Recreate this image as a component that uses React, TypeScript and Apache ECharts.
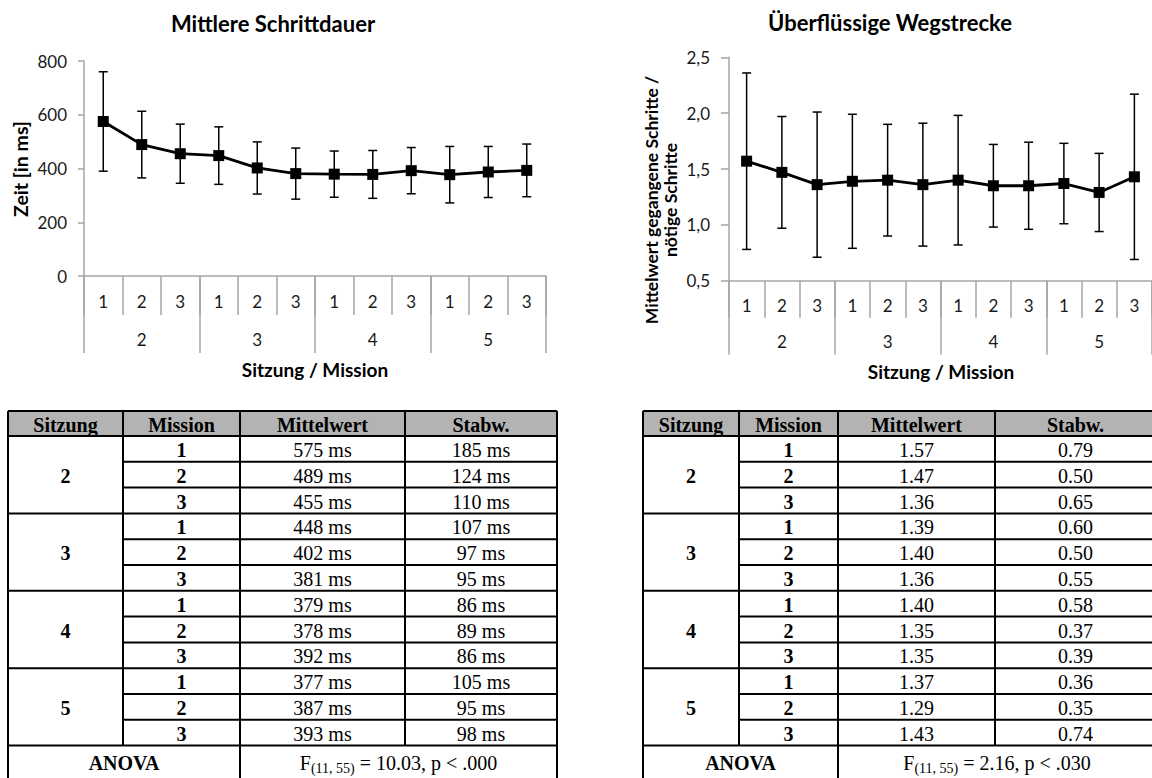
import React, { useEffect, useRef } from 'react';
import * as echarts from 'echarts';

// ---------- data ----------
const missionLabels = ['1', '2', '3', '1', '2', '3', '1', '2', '3', '1', '2', '3'];
const sessionLabels = ['2', '3', '4', '5'];
const durationMean = [575, 489, 455, 448, 402, 381, 379, 378, 392, 377, 387, 393];
const durationSd = [185, 124, 110, 107, 97, 95, 86, 89, 86, 105, 95, 98];
const pathMean = [1.57, 1.47, 1.36, 1.39, 1.40, 1.36, 1.40, 1.35, 1.35, 1.37, 1.29, 1.43];
const pathSd = [0.79, 0.50, 0.65, 0.60, 0.50, 0.55, 0.58, 0.37, 0.39, 0.36, 0.35, 0.74];

const tableHeaders = ['Sitzung', 'Mission', 'Mittelwert', 'Stabw.'];
const anovaLabel = 'ANOVA';
const durationAnova = ['F', '(11, 55)', ' = 10.03, p < .000'];
const pathAnova = ['F', '(11, 55)', ' = 2.16, p < .030'];

const titleLeft = 'Mittlere Schrittdauer';
const titleRight = 'Überflüssige Wegstrecke';
const xTitle = 'Sitzung / Mission';
const yTitleLeft = 'Zeit [in ms]';
const yTitleRight = 'Mittelwert gegangene Schritte /\nnötige Schritte';

// ---------- styling ----------
const SANS = 'Lato';
const SERIF = 'Liberation Serif';
const AXIS_GRAY = '#a6a6a6';
const LABEL = '#1a1a1a';

const errorBarItem = (params: any, api: any) => {
  const x = api.value(0);
  const lo = api.coord([x, api.value(1)]);
  const hi = api.coord([x, api.value(2)]);
  const w = 4.5;
  const style = { stroke: '#000', lineWidth: 1.5 };
  return {
    type: 'group',
    children: [
      { type: 'line', shape: { x1: lo[0], y1: lo[1], x2: hi[0], y2: hi[1] }, style },
      { type: 'line', shape: { x1: lo[0] - w, y1: lo[1], x2: lo[0] + w, y2: lo[1] }, style },
      { type: 'line', shape: { x1: hi[0] - w, y1: hi[1], x2: hi[0] + w, y2: hi[1] }, style },
    ],
  };
};

function xAxes(gridIndex: number, catMargin: number, groupMargin: number, shortLen: number, longLen: number) {
  return [
    {
      type: 'category',
      gridIndex,
      position: 'bottom',
      data: missionLabels,
      boundaryGap: true,
      axisLine: { show: true, lineStyle: { color: AXIS_GRAY, width: 1.5 } },
      axisTick: { show: true, interval: 0, length: shortLen, lineStyle: { color: AXIS_GRAY, width: 1.5 } },
      axisLabel: { interval: 0, margin: catMargin, fontSize: 17, color: LABEL, fontFamily: SANS },
      splitLine: { show: false },
    },
    {
      type: 'category',
      gridIndex,
      position: 'bottom',
      data: sessionLabels,
      boundaryGap: true,
      axisLine: { show: false },
      axisTick: { show: true, interval: 0, length: longLen, lineStyle: { color: AXIS_GRAY, width: 1.5 } },
      axisLabel: { interval: 0, margin: groupMargin, fontSize: 17, color: LABEL, fontFamily: SANS },
      splitLine: { show: false },
    },
  ];
}

function buildTable(
  colX: number[],
  top: number,
  headerH: number,
  rowH: number,
  anovaH: number,
  means: string[],
  sds: string[],
  anova: string[],
) {
  const els: any[] = [];
  const left = colX[0];
  const right = colX[4];
  const bodyTop = top + headerH;
  const anovaTop = bodyTop + rowH * means.length;
  const bottom = anovaTop + anovaH;
  const line = { stroke: '#000', lineWidth: 2 };
  els.push({ type: 'rect', shape: { x: left, y: top, width: right - left, height: headerH }, style: { fill: '#b3b3b3' } });
  els.push({ type: 'line', shape: { x1: left, y1: top, x2: right, y2: top }, style: line });
  els.push({ type: 'line', shape: { x1: left, y1: bodyTop, x2: right, y2: bodyTop }, style: line });
  means.forEach((_, i) => {
    const y = bodyTop + rowH * (i + 1);
    const x1 = (i + 1) % 3 === 0 ? left : colX[1];
    els.push({ type: 'line', shape: { x1, y1: y, x2: right, y2: y }, style: line });
  });
  els.push({ type: 'line', shape: { x1: left, y1: bottom, x2: right, y2: bottom }, style: line });
  els.push({ type: 'line', shape: { x1: left, y1: top, x2: left, y2: bottom }, style: line });
  els.push({ type: 'line', shape: { x1: colX[1], y1: top, x2: colX[1], y2: anovaTop }, style: line });
  els.push({ type: 'line', shape: { x1: colX[2], y1: top, x2: colX[2], y2: bottom }, style: line });
  els.push({ type: 'line', shape: { x1: colX[3], y1: top, x2: colX[3], y2: anovaTop }, style: line });
  els.push({ type: 'line', shape: { x1: right, y1: top, x2: right, y2: bottom }, style: line });

  const txt = (x: number, y: number, text: string, bold: boolean) => ({
    type: 'text',
    x,
    y,
    style: {
      text,
      fontFamily: SERIF,
      fontSize: 20,
      fontWeight: bold ? 'bold' : 'normal',
      fill: '#000',
      align: 'center',
      verticalAlign: 'middle',
    },
  });
  const cx = (i: number) => (colX[i] + colX[i + 1]) / 2;
  tableHeaders.forEach((h, i) => els.push(txt(cx(i), top + headerH / 2 + 1, h, true)));
  sessionLabels.forEach((s, g) => els.push(txt(cx(0), bodyTop + rowH * (g * 3 + 1.5) + 1, s, true)));
  means.forEach((m, i) => {
    const y = bodyTop + rowH * (i + 0.5) + 1;
    els.push(txt(cx(1), y, missionLabels[i], true));
    els.push(txt(cx(2), y, m, false));
    els.push(txt(cx(3), y, sds[i], false));
  });
  const ay = anovaTop + 17;
  els.push(txt((colX[0] + colX[2]) / 2, ay, anovaLabel, true));
  els.push({
    type: 'text',
    x: (colX[2] + colX[4]) / 2,
    y: ay,
    style: {
      text: `{n|${anova[0]}}{s|${anova[1]}}{n|${anova[2]}}`,
      align: 'center',
      verticalAlign: 'middle',
      fontFamily: SERIF,
      fontSize: 20,
      fill: '#000',
      rich: {
        n: { fontFamily: SERIF, fontSize: 20, lineHeight: 26, fill: '#000', verticalAlign: 'middle' },
        s: { fontFamily: SERIF, fontSize: 14, lineHeight: 14, fill: '#000', verticalAlign: 'bottom' },
      },
    },
  });
  return els;
}

function titleText(x: number, y: number, text: string, size: number, rotate = false, lineHeight?: number) {
  return {
    type: 'text',
    x,
    y,
    rotation: rotate ? Math.PI / 2 : 0,
    style: {
      text,
      fontFamily: SANS,
      fontSize: size,
      fontWeight: 'bold',
      fill: '#000',
      align: 'center',
      verticalAlign: 'middle',
      lineHeight,
    },
  };
}

export default function App() {
  const ref = useRef<HTMLDivElement>(null);
  useEffect(() => {
    if (!ref.current) return;
    const chart = echarts.init(ref.current, undefined, { renderer: 'svg' });
    const option: any = {
      animation: false,
      backgroundColor: '#fff',
      textStyle: { fontFamily: SANS },
      grid: [
        { left: 84, top: 61, width: 462, height: 215, containLabel: false },
        { left: 729, top: 57.3, width: 423.6, height: 223.4, containLabel: false },
      ],
      xAxis: [...xAxes(0, 17, 55, 39, 77), ...xAxes(1, 16, 52, 37, 74)],
      yAxis: [
        {
          type: 'value',
          gridIndex: 0,
          min: 0,
          max: 800,
          interval: 200,
          axisLine: { show: true, lineStyle: { color: AXIS_GRAY, width: 1.5 } },
          axisTick: { show: true, length: 6, lineStyle: { color: AXIS_GRAY, width: 1.5 } },
          axisLabel: { margin: 17, fontSize: 17, color: LABEL, fontFamily: SANS },
          splitLine: { show: false },
        },
        {
          type: 'value',
          gridIndex: 1,
          min: 0.5,
          max: 2.5,
          interval: 0.5,
          axisLine: { show: true, lineStyle: { color: AXIS_GRAY, width: 1.5 } },
          axisTick: { show: true, length: 8, lineStyle: { color: AXIS_GRAY, width: 1.5 } },
          axisLabel: {
            margin: 19,
            fontSize: 17,
            color: LABEL,
            fontFamily: SANS,
            formatter: (v: number) => v.toFixed(1).replace('.', ','),
          },
          splitLine: { show: false },
        },
      ],
      series: [
        {
          type: 'custom',
          xAxisIndex: 0,
          yAxisIndex: 0,
          renderItem: errorBarItem,
          encode: { x: 0, y: [1, 2] },
          data: durationMean.map((m, i) => [i, m - durationSd[i], m + durationSd[i]]),
          z: 2,
        },
        {
          type: 'line',
          xAxisIndex: 0,
          yAxisIndex: 0,
          data: durationMean,
          symbol: 'rect',
          symbolSize: 11,
          lineStyle: { color: '#000', width: 2.8 },
          itemStyle: { color: '#000' },
          z: 3,
        },
        {
          type: 'custom',
          xAxisIndex: 2,
          yAxisIndex: 1,
          renderItem: errorBarItem,
          encode: { x: 0, y: [1, 2] },
          data: pathMean.map((m, i) => [i, m - pathSd[i], m + pathSd[i]]),
          z: 2,
        },
        {
          type: 'line',
          xAxisIndex: 2,
          yAxisIndex: 1,
          data: pathMean,
          symbol: 'rect',
          symbolSize: 11,
          lineStyle: { color: '#000', width: 2.8 },
          itemStyle: { color: '#000' },
          z: 3,
        },
      ],
      graphic: [
        titleText(273, 23, titleLeft, 22),
        titleText(890, 22, titleRight, 22),
        titleText(315, 369, xTitle, 19),
        titleText(941, 371, xTitle, 19),
        titleText(20, 169, yTitleLeft, 19.5, true),
        titleText(661, 200, yTitleRight, 17.5, true, 19),
        ...buildTable(
          [8, 123, 240, 405, 557],
          411,
          25,
          25.8,
          34,
          durationMean.map((m) => `${m} ms`),
          durationSd.map((s) => `${s} ms`),
          durationAnova,
        ),
        ...buildTable(
          [643, 739, 838, 995, 1156],
          411,
          25,
          25.8,
          34,
          pathMean.map((m) => m.toFixed(2)),
          pathSd.map((s) => s.toFixed(2)),
          pathAnova,
        ),
      ],
    };
    chart.setOption(option);
    return () => chart.dispose();
  }, []);
  return (
    <div
      ref={ref}
      style={{ position: 'absolute', left: 0, top: 0, width: 1152, height: 778, background: '#fff' }}
    />
  );
}
